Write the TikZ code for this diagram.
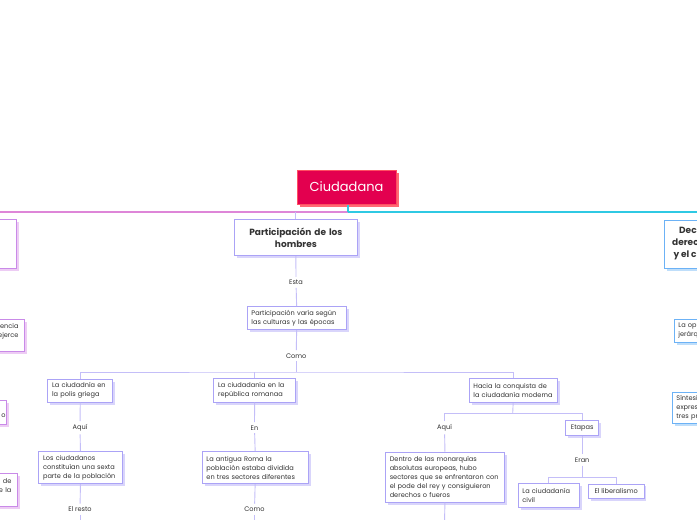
\documentclass[tikz,border=0pt]{standalone}
\usepackage{fontspec}
\setmainfont{Poppins}
\usetikzlibrary{shadows}
\definecolor{txt}{HTML}{333333}
\definecolor{rootfill}{HTML}{E3004F}
\definecolor{rootbord}{HTML}{FF4F62}
\definecolor{rootshad}{HTML}{FF6A74}
\definecolor{pinkl}{HTML}{DE86D8}
\definecolor{cyanl}{HTML}{2FC9E3}
\definecolor{lavb}{HTML}{ABA3F6}
\definecolor{lavs}{HTML}{D9D5FB}
\definecolor{lavl}{HTML}{C4BEF8}
\definecolor{blub}{HTML}{6CB2F6}
\definecolor{blus}{HTML}{BFDEFA}
\definecolor{pkb}{HTML}{C98AE8}
\definecolor{pks}{HTML}{EDCCF4}
\newcommand\mmsmall{\fontsize{6.6}{9}\selectfont}
\newcommand\mmbold{\fontsize{9}{12.3}\selectfont\bfseries}
\begin{document}
\begin{tikzpicture}[x=1pt,y=-1pt,
  basebox/.style={line width=0.9pt, fill=white, text=txt, font=\mmsmall,
    inner xsep=4.3pt, inner ysep=1pt, align=left, anchor=north west},
  lav/.style={basebox, draw=lavb, drop shadow={shadow xshift=2.4pt, shadow yshift=-2.4pt, fill=lavs, opacity=1}},
  blu/.style={basebox, draw=blub, drop shadow={shadow xshift=2.4pt, shadow yshift=-2.4pt, fill=blus, opacity=1}},
  pkbox/.style={basebox, draw=pkb, drop shadow={shadow xshift=2.4pt, shadow yshift=-2.4pt, fill=pks, opacity=1}},
  lbl/.style={font=\mmsmall, text=txt, inner sep=3pt},
  conn/.style={draw=lavl, line width=0.9pt}
]
\useasboundingbox (0,0) rectangle (697,520);
\fill[white] (0,0) rectangle (697,520);
\clip (0,0) rectangle (697,520);

% root
\node[fill=rootfill, draw=rootbord, line width=1pt, text=white,
  font=\fontsize{13}{15}\selectfont, minimum width=99pt, minimum height=34pt,
  inner sep=0pt,
  drop shadow={shadow xshift=3pt, shadow yshift=-3pt, fill=rootshad, opacity=1}]
  (root) at (346.5,187) {Ciudadana};

\coordinate (lend) at (0,212);
\coordinate (jr) at (348,212);
\coordinate (rend) at (697,212);
\coordinate (jh) at (296,212);

% first-level boxes
\node[pkbox, minimum width=60pt, minimum height=49pt, anchor=north east] (lb1) at (16.7,219) {};
\node[lav, align=center, font=\mmbold, text width=115pt, minimum height=36.4pt, anchor=center]
  (hombres) at (295.9,237.5) {Participación de los\\hombres};
\node[blu, minimum width=80pt, minimum height=48.6pt] (rb1) at (664.3,219.7) {};
\node[font=\mmbold, text=txt, align=left, anchor=north west, inner sep=0pt] (rb1t) at (672,226.5)
  {\hspace*{7pt}Dec\\derec\\\hspace*{1.3pt}y el c};

\draw[pinkl, line width=1.5pt] (lend) -- (jr);
\draw[cyanl, line width=1.5pt] (jr) -- (rend);
\draw[cyanl, line width=1.2pt] (jr) -- (jr |- root.south);
\draw[conn] (hombres.north |- jh) -- (hombres.north);

% left partial boxes
\node[pkbox, text width=60pt, align=right, minimum height=32pt, anchor=north east, inner xsep=6pt]
  (lb2) at (25,319) {encia\\ejerce\\~};
\node[pkbox, text width=60pt, align=right, minimum height=24.3pt, anchor=north east, inner xsep=1.3pt]
  (lb3) at (7.3,400) {~\\o};
\node[pkbox, text width=60pt, align=right, minimum height=33.3pt, anchor=north east, inner xsep=6.5pt]
  (lb4) at (18.3,472.7) {de\hspace*{2.4pt}\\e la\\~};

% right partial boxes
\node[blu, text width=80pt, minimum height=22.7pt, inner xsep=4pt] (rb2) at (674,319) {La op\\jerárq};
\node[blu, text width=80pt, minimum height=31pt] (rb3) at (671.7,391.7) {Síntesi\\expres\\tres pr};

% central tree
\node[lbl] (esta) at (296,282.3) {Esta};
\node[lav, text width=90.4pt, minimum height=23.3pt] (varia) at (246.7,306)
  {Participación varía según\\las culturas y las épocas};
\node[lbl] (como1) at (296.2,355.7) {Como};
\coordinate (j1) at (296.2,372);

\node[lav, text width=56.4pt, minimum height=23pt] (polis) at (47.3,378.7)
  {La ciudadnía en\\la polis griega};
\node[lav, text width=73.1pt, minimum height=23.4pt] (roma) at (213.3,378.3)
  {La ciudadanía en la\\república romanaa};
\node[lav, text width=79.4pt, minimum height=24pt] (hacia) at (468.7,378.3)
  {Hacia la conquista de\\la ciudadanía moderna};

\draw[conn] (hombres.south) -- (esta);
\draw[conn] (esta) -- (varia.north);
\draw[conn] (varia.south) -- (como1);
\draw[conn] (como1) -- (j1);
\draw[conn] (polis.north) |- (j1) -| (hacia.north);
\draw[conn] (roma.north) -- (roma.north |- j1);

% polis branch
\node[lbl] (aqui1) at (80,427.7) {Aquí};
\node[lav, text width=74.8pt, minimum height=32.3pt] (sexta) at (38.3,451)
  {Los ciudadanos\\constituían una sexta\\parte de la población};
\node[lbl] (resto) at (80,509.3) {El resto};
\coordinate (bot1) at (80,522);
\draw[conn] (polis.south) -- (aqui1);
\draw[conn] (aqui1) -- (sexta.north);
\draw[conn] (sexta.south) -- (resto);
\draw[conn] (resto) -- (bot1);

% roma branch
\node[lbl] (en) at (254.5,427.7) {En};
\node[lav, text width=97.4pt, minimum height=32.3pt] (antigua) at (201.7,451)
  {La antigua Roma la\\población estaba dividida\\en tres sectores diferentes};
\node[lbl] (como2) at (254.5,509.3) {Como};
\coordinate (bot2) at (254.5,522);
\draw[conn] (roma.south) -- (en);
\draw[conn] (en) -- (antigua.north);
\draw[conn] (antigua.south) -- (como2);
\draw[conn] (como2) -- (bot2);

% hacia branch
\coordinate (j2) at (512.7,413.3);
\node[lbl] (aqui3) at (444.5,427.7) {Aquí};
\node[lav, align=center, minimum width=33pt, minimum height=15pt, anchor=center, inner xsep=2pt]
  (etapas) at (582.2,428.2) {Etapas};
\node[lav, text width=110.4pt, minimum height=50pt] (dentro) at (385,451.7)
  {Dentro de las monarquías\\absolutas europeas, hubo\\sectores que se enfrentaron con\\el pode del rey y consiguieron\\derechos o fueros};
\coordinate (bot3) at (444.5,522);
\draw[conn] (hacia.south) -- (j2);
\draw[conn] (aqui3.north) |- (j2) -| (etapas.north);
\draw[conn] (aqui3) -- (dentro.north);
\draw[conn] (dentro.south) -- (bot3);

\node[lbl] (eran) at (582.2,460) {Eran};
\coordinate (j3) at (582.2,477.3);
\node[lav, text width=52.7pt, minimum height=23.4pt] (civil) at (517.7,483.3)
  {La ciudadanía\\civil};
\node[lav, align=center, minimum width=55.7pt, minimum height=14.3pt, anchor=center, inner xsep=2pt]
  (liberal) at (616.2,491.2) {El liberalismo};
\draw[conn] (etapas.south) -- (eran);
\draw[conn] (eran) -- (j3);
\draw[conn] (civil.north) |- (j3) -| (liberal.north);
\end{tikzpicture}
\end{document}
